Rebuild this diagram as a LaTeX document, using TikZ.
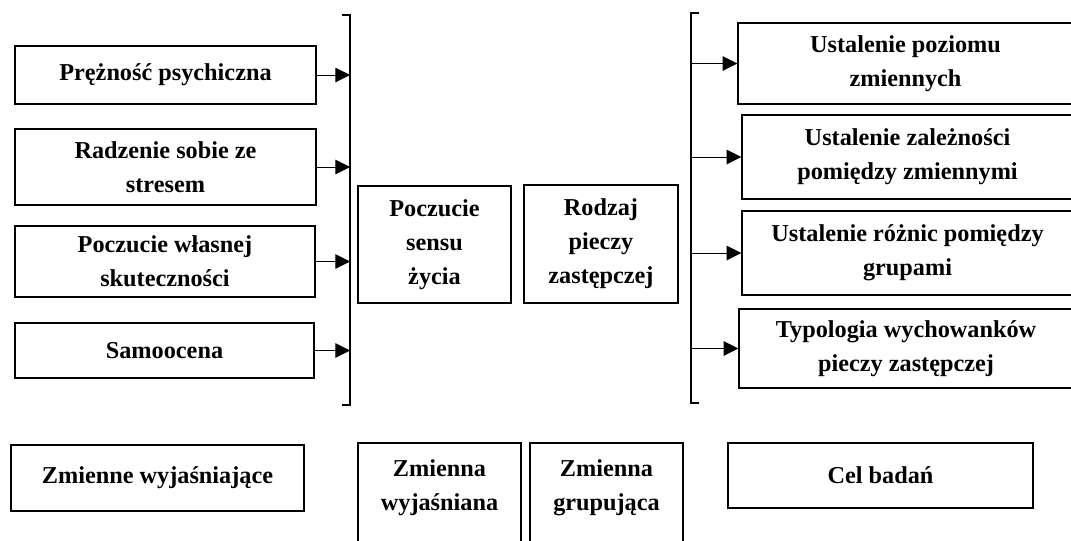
\documentclass[tikz,border=0pt]{standalone}
\usepackage{fontspec}
\setmainfont{Liberation Serif}
\usetikzlibrary{arrows.meta,calc}
\tikzset{
  px/.style 2 args={minimum width=#1*0.75pt, minimum height=#2*0.75pt},
  box/.style={draw, line width=1.1pt, inner sep=0pt, align=center,
    font=\bfseries\fontsize{18.2}{25.5}\selectfont},
  txt/.style={inner sep=0pt, align=center,
    font=\bfseries\fontsize{18.2}{25.5}\selectfont},
  brk/.style={line width=1.6pt},
  arr/.style={line width=0.7pt, -{Triangle[length=11pt,width=11pt]}},
}
\begin{document}
\begin{tikzpicture}[x=0.75pt,y=-0.75pt]
\path[use as bounding box] (0,0) rectangle (1071,540);
\clip (0,0) rectangle (1071,540);
% left column
\node[box,px={301}{58}] (l1) at (165.5,75) {Prężność psychiczna};
\node[box,px={301}{76}] (l2) at (165.5,167) {Radzenie sobie ze\\stresem};
\node[box,px={300}{71}] (l3) at (165,261.5) {Poczucie własnej\\skuteczności};
\node[box,px={299}{55}] (l4) at (164.5,350.5) {Samoocena};
% left bracket
\coordinate (lbT) at (350,15);
\coordinate (lbB) at (350,405);
\draw[brk] ($(lbT)+(-8,0)$) -- (lbT) -- (lbB) -- ++(-8,0);
\foreach \n in {l1,l2,l3,l4}
  \draw[arr] (\n.east) -- (\n.east -| lbT);
% middle
\node[box,px={153}{117}] (m1) at (434.5,244.5) {Poczucie\\sensu\\życia};
\node[box,px={154}{118}] (m2) at (601,244) {Rodzaj\\pieczy\\zastępczej};
% right bracket
\coordinate (rbT) at (691,13);
\coordinate (rbB) at (691,403);
\draw[brk] ($(rbT)+(8,0)$) -- (rbT) -- (rbB) -- ++(8,0);
% right column
\node[box,px={335}{81}] (r1) at (905.5,63.5) {Ustalenie poziomu\\zmiennych};
\node[box,px={331}{84}] (r2) at (907.5,157) {Ustalenie zależności\\pomiędzy zmiennymi};
\node[box,px={331}{84}] (r3) at (907.5,253) {Ustalenie różnic pomiędzy\\grupami};
\node[box,px={334}{79}] (r4) at (906,348.5) {Typologia wychowanków\\pieczy zastępczej};
\foreach \n in {r1,r2,r3,r4}
  \draw[arr] (\n.west -| rbT) -- (\n.west);
% bottom row
\node[box,px={293}{66}] (b1) at (157.5,478) {Zmienne wyjaśniające};
\node[box,px={163}{104}] (b2) at (439.5,495) {};
\node[txt] (b2t) at (439.5,488) {Zmienna\\wyjaśniana};
\node[box,px={153}{104}] (b3) at (606.5,495) {};
\node[txt] (b3t) at (606.5,488) {Zmienna\\grupująca};
\node[box,px={305}{65}] (b4) at (880.5,475.5) {Cel badań};
\end{tikzpicture}
\end{document}
